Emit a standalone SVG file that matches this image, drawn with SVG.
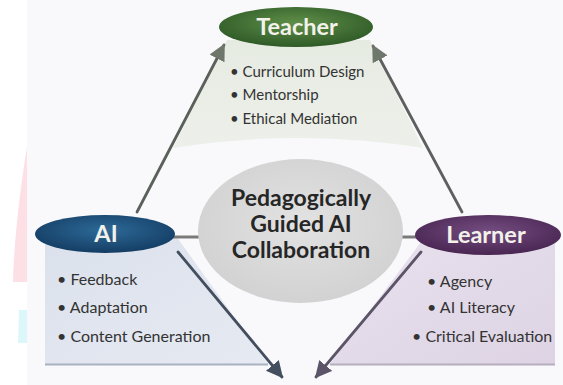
<svg xmlns="http://www.w3.org/2000/svg" width="563" height="385" viewBox="0 0 563 385">
  <defs>
    <radialGradient id="gTeacher" cx="50%" cy="40%" r="60%">
      <stop offset="0" stop-color="#5f8f49"/>
      <stop offset="1" stop-color="#2f5a27"/>
    </radialGradient>
    <radialGradient id="gAI" cx="50%" cy="40%" r="60%">
      <stop offset="0" stop-color="#2d6a98"/>
      <stop offset="1" stop-color="#143d64"/>
    </radialGradient>
    <radialGradient id="gLearner" cx="50%" cy="40%" r="60%">
      <stop offset="0" stop-color="#734d80"/>
      <stop offset="1" stop-color="#4a2653"/>
    </radialGradient>
    <radialGradient id="gCenter" cx="50%" cy="45%" r="55%">
      <stop offset="0" stop-color="#e2e2e2"/>
      <stop offset="1" stop-color="#d2d2d3"/>
    </radialGradient>
    <linearGradient id="gPanelAI" x1="0" y1="0" x2="1" y2="1">
      <stop offset="0" stop-color="#dbe1ec"/>
      <stop offset="1" stop-color="#e6eaf2"/>
    </linearGradient>
    <linearGradient id="gPanelL" x1="0" y1="0" x2="1" y2="1">
      <stop offset="0" stop-color="#e9e2ee"/>
      <stop offset="1" stop-color="#ddd3e4"/>
    </linearGradient>
    <linearGradient id="gPanelT" x1="0" y1="0" x2="0" y2="1">
      <stop offset="0" stop-color="#e6ebe2"/>
      <stop offset="1" stop-color="#edf0ea"/>
    </linearGradient>
    <marker id="ahGray" viewBox="0 0 10 10" refX="9" refY="5" markerWidth="6" markerHeight="6" orient="auto" markerUnits="strokeWidth">
      <path d="M0,0 L10,5 L0,10 z" fill="#6f766c"/>
    </marker>
    <marker id="ahBlue" viewBox="0 0 10 10" refX="9" refY="5" markerWidth="6" markerHeight="6" orient="auto" markerUnits="strokeWidth">
      <path d="M0,0 L10,5 L0,10 z" fill="#434e5e"/>
    </marker>
    <marker id="ahPurple" viewBox="0 0 10 10" refX="9" refY="5" markerWidth="6" markerHeight="6" orient="auto" markerUnits="strokeWidth">
      <path d="M0,0 L10,5 L0,10 z" fill="#5c5468"/>
    </marker>
  </defs>
  <style>
    .label { font-family: Lato, "Open Sans", sans-serif; font-weight: bold; text-anchor: middle; }
    .node-label { font-size: 23.5px; fill: #f2f2ea; }
    .item { font-family: Lato, "Open Sans", sans-serif; font-size: 16px; fill: #333333; }
    .t-item { font-size: 15px; }
    .center-label { font-size: 23px; fill: #262626; }
    .arrow { fill: none; stroke-width: 2.8; stroke-linecap: round; }
    .link { stroke: #7a7a7a; stroke-width: 3; }
  </style>

  <!-- background -->
  <rect x="0" y="0" width="563" height="385" fill="#ffffff"/>
  <rect x="27" y="0" width="536" height="385" fill="#f9f9fb"/>
  <path d="M27,147 C20,190 14,240 13,282 L27,282 Z" fill="#fde0e5"/>
  <path d="M19,310 L27,310 L27,343 L18,343 Z" fill="#dcf7fa"/>

  <!-- panels -->
  <g id="teacher-panel">
    <path d="M227,40 L370,40 L423,148 Q298,128 173,148 Z" fill="url(#gPanelT)"/>
  </g>
  <g id="ai-panel">
    <path d="M45,236 L176,236 L268,364 L45,364 Z" fill="url(#gPanelAI)"/>
    <line x1="45" y1="364.5" x2="268" y2="364.5" stroke="#a9b2c1" stroke-width="2"/>
  </g>
  <g id="learner-panel">
    <path d="M424,238 L555,238 L555,364 L330,364 Z" fill="url(#gPanelL)"/>
    <line x1="330" y1="364.5" x2="555" y2="364.5" stroke="#b6aebd" stroke-width="2"/>
  </g>

  <!-- connectors -->
  <g id="connectors">
    <line class="link" x1="172" y1="237" x2="200" y2="237"/>
    <line class="link" x1="400" y1="237" x2="418" y2="237"/>
    <line class="arrow" x1="137" y1="212" x2="224" y2="45" stroke="#5a605a" marker-end="url(#ahGray)"/>
    <line class="arrow" x1="462" y1="212" x2="373" y2="46" stroke="#5e6060" marker-end="url(#ahGray)"/>
    <line class="arrow" x1="178" y1="252" x2="282" y2="377" stroke="#434e5e" marker-end="url(#ahBlue)"/>
    <line class="arrow" x1="421" y1="252" x2="316" y2="377" stroke="#5c5468" marker-end="url(#ahPurple)"/>
  </g>

  <!-- center -->
  <g id="center">
    <ellipse cx="300.5" cy="231" rx="102.5" ry="72" fill="url(#gCenter)"/>
    <text class="label center-label" x="301" y="206">Pedagogically</text>
    <text class="label center-label" x="301" y="232">Guided AI</text>
    <text class="label center-label" x="301" y="258">Collaboration</text>
  </g>

  <!-- teacher -->
  <g id="teacher">
    <ellipse cx="296" cy="27" rx="77" ry="20" fill="url(#gTeacher)"/>
    <text class="label node-label" x="297" y="35">Teacher</text>
    <text class="item t-item" x="230" y="77">• Curriculum Design</text>
    <text class="item t-item" x="230" y="100">• Mentorship</text>
    <text class="item t-item" x="230" y="124">• Ethical Mediation</text>
  </g>

  <!-- AI -->
  <g id="ai">
    <ellipse cx="105" cy="234" rx="70" ry="19" fill="url(#gAI)"/>
    <text class="label node-label" x="106" y="242">AI</text>
    <text class="item" x="57" y="285">• Feedback</text>
    <text class="item" x="57" y="313">• Adaptation</text>
    <text class="item" x="57" y="342">• Content Generation</text>
  </g>

  <!-- learner -->
  <g id="learner">
    <ellipse cx="488" cy="235" rx="73" ry="20" fill="url(#gLearner)"/>
    <text class="label node-label" x="486" y="243">Learner</text>
    <text class="item" x="427" y="287">• Agency</text>
    <text class="item" x="427" y="313">• AI Literacy</text>
    <text class="item" x="412" y="342">• Critical Evaluation</text>
  </g>
</svg>
